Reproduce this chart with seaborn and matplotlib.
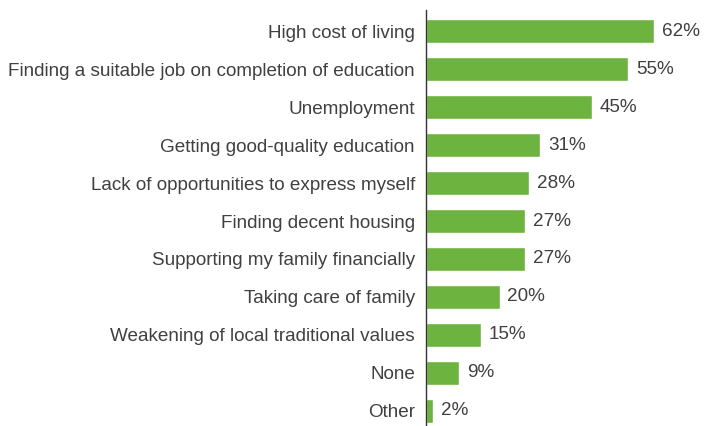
import matplotlib
matplotlib.use('Agg')

import matplotlib.pyplot as plt
import seaborn as sns
import pandas as pd

categories = [
    'High cost of living',
    'Finding a suitable job on completion of education',
    'Unemployment',
    'Getting good-quality education',
    'Lack of opportunities to express myself',
    'Finding decent housing',
    'Supporting my family financially',
    'Taking care of family',
    'Weakening of local traditional values',
    'None',
    'Other',
]
values = [62, 55, 45, 31, 28, 27, 27, 20, 15, 9, 2]

BAR_COLOR = '#6db33f'
TEXT_COLOR = '#404040'

sns.set_theme(style='white')
plt.rcParams['font.family'] = ['Liberation Sans', 'DejaVu Sans']

df = pd.DataFrame({'issue': categories, 'pct': values})

fig = plt.figure(figsize=(7.14, 4.26), dpi=100)
ax = fig.add_axes([426 / 714, 0.0, 1 - 426 / 714, 1 - 10 / 426])

sns.barplot(data=df, x='pct', y='issue', color=BAR_COLOR, width=0.63,
            saturation=1, ax=ax)

# percentage labels to the right of each bar
for i, v in enumerate(values):
    ax.text(v + 2.1, i, f'{v}%', va='center', ha='left',
            fontsize=13.6, color=TEXT_COLOR)

ax.set_xlim(0, 78.3)
ax.set_ylim(10.395, -0.553)
ax.set_xlabel('')
ax.set_ylabel('')
ax.set_xticks([])
ax.tick_params(axis='y', length=0, pad=8, labelsize=13.6, labelcolor=TEXT_COLOR)

for s in ['top', 'right', 'bottom']:
    ax.spines[s].set_visible(False)
ax.spines['left'].set_color('#333333')
ax.spines['left'].set_linewidth(1.0)

fig.savefig('out.png', dpi=100)
plt.close(fig)
